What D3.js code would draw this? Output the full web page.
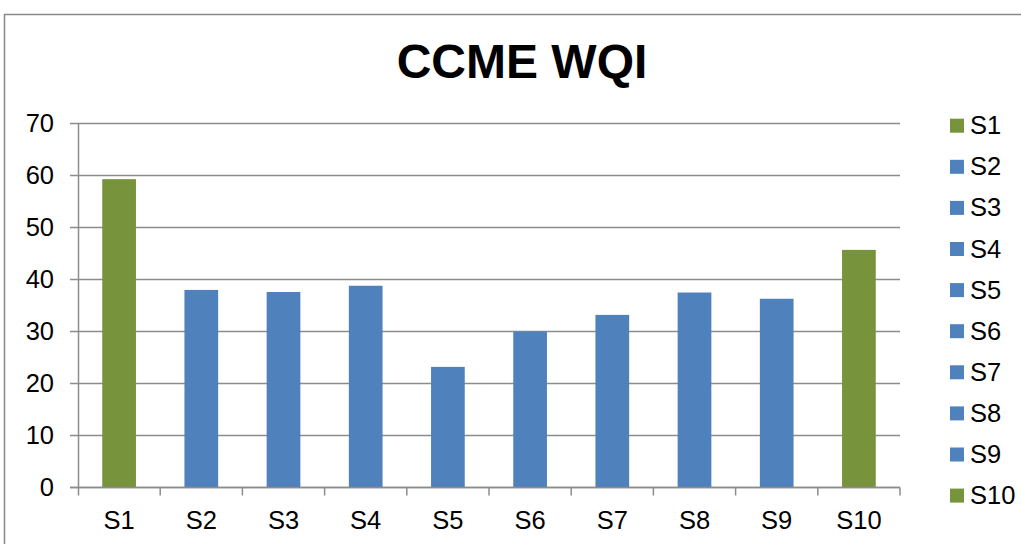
<!DOCTYPE html>
<html>
<head>
<meta charset="utf-8">
<script src="https://cdn.jsdelivr.net/npm/d3@7"></script>
<style>
  body { margin: 0; background: #fff; }
  text { font-family: Arial, "Liberation Sans", sans-serif; fill: #000; }
</style>
</head>
<body>
<div id="chart"></div>
<script>
const sites = ["S1", "S2", "S3", "S4", "S5", "S6", "S7", "S8", "S9", "S10"];
const wqi = [59.2, 37.9, 37.5, 38.7, 23.1, 29.9, 33.1, 37.4, 36.2, 45.6];
const siteColours = ["#77933C", "#4F81BD", "#4F81BD", "#4F81BD", "#4F81BD",
  "#4F81BD", "#4F81BD", "#4F81BD", "#4F81BD", "#77933C"];
const yTicks = [0, 10, 20, 30, 40, 50, 60, 70];

const width = 1021;
const height = 544;
const margin = { top: 123, right: 121, bottom: 57, left: 78 };

const svg = d3.select("#chart")
  .append("svg")
  .attr("width", width)
  .attr("height", height);

// outer chart frame
svg.append("rect")
  .attr("x", 4.5)
  .attr("y", 14.5)
  .attr("width", width + 20)
  .attr("height", height + 20)
  .style("fill", "none")
  .style("stroke", "#888")
  .style("stroke-width", 1.5);

svg.append("text")
  .attr("x", 522)
  .attr("y", 78)
  .attr("text-anchor", "middle")
  .style("font-size", "48px")
  .style("font-weight", "bold")
  .text("CCME WQI");

const x = d3.scaleBand()
  .domain(sites)
  .range([margin.left, width - margin.right])
  .paddingInner(0.59)
  .paddingOuter(0.295);

const xOuter = d3.scaleBand()
  .domain(sites)
  .range([margin.left, width - margin.right]);

const y = d3.scaleLinear()
  .domain([0, 70])
  .range([height - margin.bottom, margin.top]);

// gridlines
svg.append("g")
  .selectAll("line")
  .data(yTicks)
  .enter()
  .append("line")
  .attr("x1", margin.left - 8)
  .attr("x2", width - margin.right)
  .attr("y1", d => Math.round(y(d)) + 0.5)
  .attr("y2", d => Math.round(y(d)) + 0.5)
  .style("stroke", "#8c8c8c")
  .style("stroke-width", 1.5);

// y labels
svg.append("g")
  .selectAll("text")
  .data(yTicks)
  .enter()
  .append("text")
  .attr("x", 54)
  .attr("y", d => y(d) + 9)
  .attr("text-anchor", "end")
  .style("font-size", "25.5px")
  .text(d => d);

// bars
svg.append("g")
  .selectAll("rect")
  .data(sites)
  .enter()
  .append("rect")
  .attr("x", d => x(d))
  .attr("y", (d, i) => y(wqi[i]))
  .attr("width", x.bandwidth())
  .attr("height", (d, i) => y(0) - y(wqi[i]))
  .style("fill", (d, i) => siteColours[i]);

// axes lines
const y0 = Math.round(y(0)) + 0.5;
svg.append("line")
  .attr("x1", margin.left + 0.5)
  .attr("x2", margin.left + 0.5)
  .attr("y1", margin.top)
  .attr("y2", y0 + 8)
  .style("stroke", "#8c8c8c")
  .style("stroke-width", 1.5);

svg.append("line")
  .attr("x1", margin.left - 8)
  .attr("x2", width - margin.right)
  .attr("y1", y0)
  .attr("y2", y0)
  .style("stroke", "#8c8c8c")
  .style("stroke-width", 1.5);

// category boundary ticks
svg.append("g")
  .selectAll("line")
  .data(sites)
  .enter()
  .append("line")
  .attr("x1", d => xOuter(d) + xOuter.bandwidth())
  .attr("x2", d => xOuter(d) + xOuter.bandwidth())
  .attr("y1", y0)
  .attr("y2", y0 + 8)
  .style("stroke", "#8c8c8c")
  .style("stroke-width", 1.5);

// x labels
svg.append("g")
  .selectAll("text")
  .data(sites)
  .enter()
  .append("text")
  .attr("x", d => xOuter(d) + xOuter.bandwidth() / 2)
  .attr("y", 529)
  .attr("text-anchor", "middle")
  .style("font-size", "25.5px")
  .text(d => d);

// legend
const legend = svg.append("g")
  .selectAll("g")
  .data(sites)
  .enter()
  .append("g")
  .attr("transform", (d, i) => `translate(950, ${125.7 + i * 41.1})`);

legend.append("rect")
  .attr("x", 0)
  .attr("y", -7)
  .attr("width", 14)
  .attr("height", 14)
  .style("fill", (d, i) => siteColours[i]);

legend.append("text")
  .attr("x", 20)
  .attr("y", 8.5)
  .style("font-size", "25.5px")
  .text(d => d);
</script>
</body>
</html>
